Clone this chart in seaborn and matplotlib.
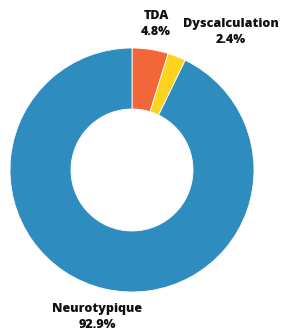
import numpy as np
import matplotlib
matplotlib.use("Agg")
import matplotlib.pyplot as plt
import seaborn as sns

labels = ["TDA", "Dyscalculation", "Neurotypique"]
shares = [4.8, 2.4, 92.9]
colors = ["#F2673A", "#FDD31F", "#2E8CBF"]
# label placement tweaks: radial distance and angle offset (deg)
label_dist = [1.21, 1.39, 1.235]
label_shift = [-0.8, -14, -0.3]

sns.set_theme(style="white")
plt.rcParams["font.family"] = ["Open Sans", "DejaVu Sans"]

W, H = 283, 331
fig = plt.figure(figsize=(W / 100, H / 100), dpi=100)
ax = fig.add_axes([10 / W, 39 / H, 244 / W, 244 / H])

wedges, _ = ax.pie(shares, colors=colors, startangle=90, counterclock=False,
                   radius=1.0, wedgeprops=dict(width=0.5, linewidth=0.6, edgecolor="white"))
ax.set_xlim(-1, 1)
ax.set_ylim(-1, 1)
ax.set_aspect("equal")
ax.axis("off")

for w, lab, val, d, s in zip(wedges, labels, shares, label_dist, label_shift):
    ang = np.deg2rad((w.theta1 + w.theta2) / 2 + s)
    ax.text(d * np.cos(ang), d * np.sin(ang), f"{lab}\n{val}%", ha="center", va="center",
            fontsize=9, fontweight="heavy", color="#111111", linespacing=1.45, clip_on=False)

fig.savefig("out.png", dpi=100)
